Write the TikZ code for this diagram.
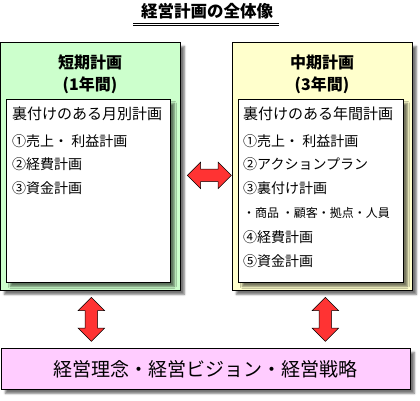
\documentclass[tikz,border=0pt]{standalone}
\usepackage{fontspec}
\setmainfont{Noto Sans CJK JP}
\usetikzlibrary{shapes.arrows,shadows.blur,calc}

\definecolor{planGreen}{HTML}{CCFFCC}
\definecolor{planYellow}{HTML}{FFFFCC}
\definecolor{basePink}{HTML}{FFCCFF}
\definecolor{arrowRed}{HTML}{FF3333}

\newcommand{\fsz}[1]{\fontsize{#1}{#1}\selectfont}

\begin{document}
\begin{tikzpicture}[x=1pt,y=-1pt,
  box/.style={draw=black,line width=0.7pt,anchor=north west,inner sep=0pt,
    blur shadow={shadow xshift=4pt,shadow yshift=-4pt,shadow blur radius=2pt,shadow opacity=55}},
  dblarrow/.style={double arrow,draw=black,line width=0.5pt,fill=arrowRed,inner sep=6pt,
    double arrow head extend=7pt,double arrow head indent=0pt,minimum height=44pt}]
  \useasboundingbox (0,0) rectangle (420,400);
  % title
  \node[font=\bfseries\fsz{16.5}] (title) at (207,11) {経営計画の全体像};
  \coordinate (ulL) at (133,23);
  \coordinate (ulR) at (279,23);
  \draw[line width=0.7pt] (ulL) -- (ulR);
  \draw[line width=0.7pt] ($(ulL)+(0,2.5)$) -- ($(ulR)+(0,2.5)$);
  % outer boxes
  \node[box,fill=planGreen,minimum width=180pt,minimum height=248pt] (short) at (0,42) {};
  \node[box,fill=planYellow,minimum width=180pt,minimum height=248pt] (mid) at (232,42) {};
  \node[box,fill=basePink,minimum width=409pt,minimum height=41pt] (base) at (1,348) {};
  \node[font=\fsz{19}] (baseText) at (base.center) {経営理念・経営ビジョン・経営戦略};
  % box titles
  \node[font=\bfseries\fsz{16}] (shortTitle) at (90,62) {短期計画};
  \node[font=\bfseries\fsz{16}] (shortTerm) at (90,85) {(1年間)};
  \node[font=\bfseries\fsz{16}] (midTitle) at (322,62) {中期計画};
  \node[font=\bfseries\fsz{16}] (midTerm) at (322,85) {(3年間)};
  % inner boxes
  \node[box,fill=white,minimum width=164pt,minimum height=183pt] (shortIn) at (6,99) {};
  \node[box,fill=white,minimum width=165pt,minimum height=183pt] (midIn) at (238,99) {};
  \foreach \txt/\y/\sz [count=\i] in {裏付けのある月別計画/114/15,①売上・ 利益計画/141/14,
      ②経費計画/164/14,③資金計画/188/14}{
    \node[anchor=west,inner sep=0pt,font=\fsz{\sz}] (shortL\i) at (12,\y) {\txt};
  }
  \foreach \txt/\y/\sz [count=\i] in {裏付けのある年間計画/114/15,①売上・ 利益計画/141/14,
      ②アクションプラン/164/14,③裏付け計画/188/14,・商品 ・顧客・拠点・人員/213/12,
      ④経費計画/237/14,⑤資金計画/261/14}{
    \node[anchor=west,inner sep=0pt,font=\fsz{\sz}] (midL\i) at (243,\y) {\txt};
  }
  % arrows
  \node[dblarrow] (linkSM) at ($(short.east)!0.5!(mid.west)+(3,9)$) {};
  \node[dblarrow,shape border rotate=90] (linkSB) at ($(short.south)!0.5!(base.north -| short.south)+(1,0)$) {};
  \node[dblarrow,shape border rotate=90] (linkMB) at ($(mid.south)!0.5!(base.north -| mid.south)+(3,0)$) {};
\end{tikzpicture}
\end{document}
